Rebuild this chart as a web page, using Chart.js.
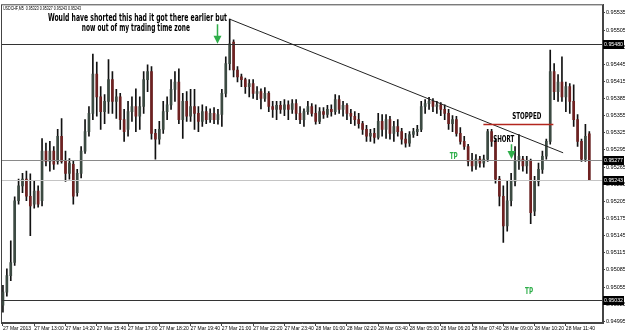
<!DOCTYPE html>
<html>
<head>
<meta charset="utf-8">
<script src="https://cdn.jsdelivr.net/npm/chart.js@4.4.0/dist/chart.umd.min.js"></script>
<style>
  html, body { margin: 0; padding: 0; background: #fff; }
  canvas { display: block; }
</style>
</head>
<body>
<canvas id="usdchfChart" width="625" height="335"></canvas>
<script>
// USDCHF M5, one candle per 10 minutes, 27 Mar 11:40 -> 28 Mar 12:20
const candleOpen = [
  0.95023,0.95046,0.95075,0.95098,0.95206,0.95232,0.95244,0.95214,0.95200,0.95223,
  0.95206,0.95293,0.95275,0.95293,0.95275,0.95319,0.95275,0.95254,0.95270,0.95220,
  0.95254,0.95293,0.95327,0.95359,0.95428,0.95388,0.95362,0.95380,0.95418,0.95380,
  0.95388,0.95348,0.95331,0.95362,0.95371,0.95354,0.95371,0.95418,0.95432,0.95324,
  0.95314,0.95331,0.95362,0.95374,0.95401,0.95414,0.95348,0.95380,0.95354,0.95371,
  0.95359,0.95345,0.95362,0.95348,0.95359,0.95348,0.95357,0.95394,0.95446,0.95484,
  0.95435,0.95423,0.95418,0.95406,0.95411,0.95394,0.95397,0.95385,0.95394,0.95371,
  0.95366,0.95373,0.95366,0.95374,0.95366,0.95376,0.95359,0.95348,0.95362,0.95371,
  0.95359,0.95345,0.95362,0.95357,0.95366,0.95362,0.95383,0.95366,0.95373,0.95359,
  0.95354,0.95348,0.95341,0.95331,0.95319,0.95324,0.95317,0.95345,0.95331,0.95348,
  0.95324,0.95336,0.95327,0.95314,0.95307,0.95322,0.95327,0.95331,0.95371,0.95376,
  0.95380,0.95371,0.95374,0.95366,0.95359,0.95341,0.95348,0.95324,0.95310,0.95301,
  0.95275,0.95267,0.95279,0.95272,0.95279,0.95327,0.95310,0.95244,0.95214,0.95162,
  0.95206,0.95240,0.95275,0.95279,0.95267,0.95275,0.95188,0.95240,0.95261,0.95284,
  0.95310,0.95432,0.95397,0.95414,0.95388,0.95406,0.95380,0.95348,0.95310,0.95279,
  0.95323
];
const candleHigh = [
  0.95058,0.95087,0.95136,0.95213,0.95244,0.95254,0.95258,0.95253,0.95240,0.95232,
  0.95315,0.95307,0.95310,0.95301,0.95331,0.95350,0.95293,0.95280,0.95275,0.95261,
  0.95301,0.95348,0.95371,0.95463,0.95449,0.95406,0.95392,0.95453,0.95432,0.95401,
  0.95394,0.95366,0.95380,0.95388,0.95402,0.95388,0.95432,0.95444,0.95441,0.95331,
  0.95345,0.95380,0.95388,0.95418,0.95432,0.95437,0.95394,0.95397,0.95401,0.95401,
  0.95371,0.95374,0.95371,0.95367,0.95369,0.95366,0.95401,0.95458,0.95524,0.95488,
  0.95441,0.95428,0.95421,0.95418,0.95418,0.95406,0.95402,0.95404,0.95397,0.95380,
  0.95380,0.95380,0.95383,0.95381,0.95383,0.95383,0.95371,0.95367,0.95380,0.95376,
  0.95374,0.95369,0.95369,0.95373,0.95374,0.95392,0.95390,0.95380,0.95376,0.95366,
  0.95362,0.95359,0.95345,0.95338,0.95331,0.95333,0.95359,0.95357,0.95357,0.95354,
  0.95345,0.95348,0.95333,0.95324,0.95327,0.95333,0.95338,0.95380,0.95383,0.95387,
  0.95385,0.95380,0.95378,0.95374,0.95366,0.95355,0.95354,0.95334,0.95319,0.95305,
  0.95289,0.95287,0.95284,0.95286,0.95331,0.95331,0.95314,0.95249,0.95232,0.95240,
  0.95254,0.95301,0.95322,0.95284,0.95284,0.95279,0.95249,0.95272,0.95293,0.95314,
  0.95470,0.95446,0.95427,0.95458,0.95414,0.95411,0.95409,0.95357,0.95314,0.95340,
  0.95327
];
const candleLow = [
  0.95011,0.95039,0.95066,0.95093,0.95200,0.95220,0.95206,0.95145,0.95193,0.95195,
  0.95197,0.95267,0.95258,0.95261,0.95270,0.95272,0.95240,0.95244,0.95200,0.95214,
  0.95246,0.95289,0.95319,0.95348,0.95354,0.95331,0.95341,0.95359,0.95359,0.95350,
  0.95331,0.95310,0.95319,0.95345,0.95327,0.95331,0.95359,0.95397,0.95314,0.95279,
  0.95305,0.95324,0.95348,0.95366,0.95380,0.95341,0.95315,0.95345,0.95345,0.95331,
  0.95327,0.95336,0.95341,0.95343,0.95341,0.95340,0.95336,0.95388,0.95435,0.95423,
  0.95414,0.95406,0.95394,0.95388,0.95385,0.95383,0.95367,0.95380,0.95362,0.95352,
  0.95348,0.95359,0.95355,0.95348,0.95359,0.95348,0.95341,0.95336,0.95357,0.95354,
  0.95340,0.95341,0.95350,0.95352,0.95354,0.95357,0.95359,0.95354,0.95348,0.95341,
  0.95338,0.95333,0.95322,0.95310,0.95310,0.95307,0.95314,0.95319,0.95315,0.95314,
  0.95310,0.95319,0.95305,0.95300,0.95301,0.95317,0.95320,0.95327,0.95359,0.95366,
  0.95362,0.95359,0.95355,0.95348,0.95331,0.95327,0.95319,0.95305,0.95296,0.95267,
  0.95258,0.95261,0.95265,0.95265,0.95275,0.95301,0.95237,0.95197,0.95133,0.95153,
  0.95197,0.95232,0.95261,0.95258,0.95254,0.95166,0.95180,0.95232,0.95254,0.95279,
  0.95305,0.95383,0.95380,0.95380,0.95362,0.95359,0.95336,0.95301,0.95275,0.95275,
  0.95243
];
const candleClose = [
  0.95046,0.95075,0.95098,0.95206,0.95232,0.95244,0.95214,0.95197,0.95223,0.95200,
  0.95293,0.95275,0.95293,0.95270,0.95319,0.95275,0.95254,0.95272,0.95214,0.95254,
  0.95293,0.95327,0.95359,0.95428,0.95388,0.95362,0.95380,0.95418,0.95380,0.95388,
  0.95348,0.95327,0.95362,0.95371,0.95354,0.95371,0.95418,0.95432,0.95324,0.95314,
  0.95331,0.95362,0.95374,0.95401,0.95414,0.95348,0.95380,0.95354,0.95371,0.95359,
  0.95345,0.95362,0.95348,0.95359,0.95348,0.95357,0.95394,0.95446,0.95481,0.95435,
  0.95423,0.95418,0.95406,0.95411,0.95394,0.95397,0.95385,0.95394,0.95371,0.95366,
  0.95373,0.95366,0.95374,0.95366,0.95376,0.95359,0.95348,0.95362,0.95371,0.95359,
  0.95345,0.95362,0.95357,0.95366,0.95362,0.95383,0.95366,0.95373,0.95359,0.95354,
  0.95348,0.95341,0.95331,0.95319,0.95324,0.95317,0.95345,0.95331,0.95348,0.95324,
  0.95336,0.95327,0.95314,0.95307,0.95322,0.95327,0.95331,0.95371,0.95376,0.95380,
  0.95371,0.95374,0.95366,0.95359,0.95341,0.95348,0.95324,0.95310,0.95301,0.95275,
  0.95267,0.95279,0.95272,0.95279,0.95327,0.95310,0.95244,0.95214,0.95162,0.95206,
  0.95240,0.95275,0.95284,0.95267,0.95275,0.95185,0.95240,0.95261,0.95284,0.95310,
  0.95432,0.95397,0.95414,0.95388,0.95406,0.95380,0.95348,0.95310,0.95279,0.95319,
  0.95243
];

const xTickLabels = [
  "27 Mar 2013", "27 Mar 13:00", "27 Mar 14:20", "27 Mar 15:40", "27 Mar 17:00",
  "27 Mar 18:20", "27 Mar 19:40", "27 Mar 21:00", "27 Mar 22:20", "27 Mar 23:40",
  "28 Mar 01:00", "28 Mar 02:20", "28 Mar 03:40", "28 Mar 05:00", "28 Mar 06:20",
  "28 Mar 07:40", "28 Mar 09:00", "28 Mar 10:20", "28 Mar 11:40"
];
const candlesPerLabel = 8;
const slotCount = 154; // chart shift: a few empty slots after the last candle

const yTickValues = [
  0.95535, 0.95505, 0.95475, 0.95445, 0.95415, 0.95385, 0.95355, 0.95325, 0.95295, 0.95265,
  0.95235, 0.95205, 0.95175, 0.95145, 0.95115, 0.95085, 0.95055, 0.95025, 0.94995
];

// horizontal price levels drawn on the chart
const levelValues = [0.95480, 0.95277, 0.95243, 0.95032];
const levelColors = ["#333", "#8a8a8a", "#c4c4c4", "#333"];

const headerText = "USDCHF,M5  0.95323 0.95327 0.95243 0.95243";

// trend line and stop line, in candle index / price
const trendFrom = [58, 0.95524];
const trendTo = [143.3, 0.95290];
const stopLine = { from: 122.9, to: 140.8, price: 0.95340 };

const notes = [
  { text: "Would have shorted this had it got there earlier but", idx: 34.4, price: 0.95526, w: 179, size: 10, color: "#000" },
  { text: "now out of my trading time zone", idx: 34.0, price: 0.95508, w: 108, size: 10, color: "#000" },
  { text: "STOPPED", idx: 134.0, price: 0.95354, w: 29, size: 9, color: "#000" },
  { text: "SHORT", idx: 128.1, price: 0.95313, w: 21, size: 9, color: "#000" },
  { text: "TP", idx: 115.3, price: 0.95284, w: 8, size: 9, color: "#2fae4a" },
  { text: "TP", idx: 134.6, price: 0.95047, w: 8, size: 9, color: "#2fae4a" }
];
const arrows = [
  { idx: 54.8, from: 0.95515, to: 0.95481 },
  { idx: 130.0, from: 0.95305, to: 0.95279 }
];

const labels = Array.from({ length: slotCount }, (_, i) => i);
const wicks = candleLow.map((lo, i) => [lo, candleHigh[i]]);
const bodies = candleOpen.map((o, i) => [o, candleClose[i]]);
const bodyColors = candleOpen.map((o, i) => candleClose[i] < o ? "#6e2121" : "#3c4a42");

const smallFont = "'Liberation Sans', Arial, sans-serif";

const overlay = {
  id: "overlay",
  afterDatasetsDraw(chart) {
    const { ctx, chartArea: a, scales: { x, y } } = chart;
    ctx.save();
    ctx.beginPath();
    ctx.rect(a.left, a.top, a.width, a.height);
    ctx.clip();

    ctx.lineWidth = 1;
    levelValues.forEach((v, k) => {
      const py = Math.round(y.getPixelForValue(v)) + 0.5;
      ctx.strokeStyle = levelColors[k];
      ctx.beginPath();
      ctx.moveTo(a.left, py);
      ctx.lineTo(a.right, py);
      ctx.stroke();
    });

    // trend line
    ctx.strokeStyle = "#222";
    ctx.beginPath();
    ctx.moveTo(x.getPixelForValue(trendFrom[0]), y.getPixelForValue(trendFrom[1]));
    ctx.lineTo(x.getPixelForValue(trendTo[0]), y.getPixelForValue(trendTo[1]));
    ctx.stroke();

    // stop line
    ctx.strokeStyle = "#b3261e";
    ctx.lineWidth = 1.5;
    const sy = Math.round(y.getPixelForValue(stopLine.price)) + 0.5;
    ctx.beginPath();
    ctx.moveTo(x.getPixelForValue(stopLine.from), sy);
    ctx.lineTo(x.getPixelForValue(stopLine.to), sy);
    ctx.stroke();

    // arrows
    arrows.forEach(ar => {
      const px = Math.round(x.getPixelForValue(ar.idx)) + 0.5;
      const y1 = y.getPixelForValue(ar.from);
      const y2 = y.getPixelForValue(ar.to);
      ctx.strokeStyle = "#2fae4a";
      ctx.fillStyle = "#2fae4a";
      ctx.lineWidth = 1.5;
      ctx.beginPath();
      ctx.moveTo(px, y1);
      ctx.lineTo(px, y2 - 7);
      ctx.stroke();
      ctx.beginPath();
      ctx.moveTo(px - 4, y2 - 8);
      ctx.lineTo(px + 4, y2 - 8);
      ctx.lineTo(px, y2);
      ctx.closePath();
      ctx.fill();
    });

    // notes
    ctx.textAlign = "center";
    ctx.textBaseline = "middle";
    notes.forEach(n => {
      ctx.font = "bold " + n.size + "px 'DejaVu Sans Condensed', 'Liberation Sans', sans-serif";
      ctx.fillStyle = n.color;
      ctx.fillText(n.text, x.getPixelForValue(n.idx), y.getPixelForValue(n.price), n.w);
    });
    ctx.restore();
  },
  afterDraw(chart) {
    const { ctx, chartArea: a, scales: { y } } = chart;
    ctx.save();
    ctx.strokeStyle = "#444";
    ctx.lineWidth = 1;
    ctx.strokeRect(a.left + 0.5, a.top + 0.5, a.width - 1, a.height - 1);

    ctx.font = "6px " + smallFont;
    ctx.fillStyle = "#000";
    ctx.textAlign = "left";
    ctx.textBaseline = "middle";
    ctx.fillText(headerText, a.left + 2, a.top + 4, 78);

    // highlighted price boxes on the right axis
    ctx.font = "5.5px " + smallFont;
    levelValues.forEach(v => {
      const py = Math.round(y.getPixelForValue(v));
      ctx.fillStyle = "#000";
      ctx.fillRect(a.right, py - 4, 21, 9);
      ctx.fillStyle = "#fff";
      ctx.fillText(v.toFixed(5), a.right + 1, py + 0.5, 19);
    });
    ctx.restore();
  }
};

new Chart(document.getElementById("usdchfChart"), {
  type: "bar",
  data: {
    labels: labels,
    datasets: [
      {
        data: bodies,
        backgroundColor: bodyColors,
        barThickness: 2,
        minBarLength: 1,
        grouped: false,
        order: 1
      },
      {
        data: wicks,
        backgroundColor: "#111",
        barThickness: 1,
        grouped: false,
        order: 2
      }
    ]
  },
  options: {
    responsive: false,
    animation: false,
    devicePixelRatio: 1,
    layout: { padding: { left: 1, top: 2, right: 0, bottom: 0 } },
    plugins: { legend: { display: false }, tooltip: { enabled: false } },
    scales: {
      x: {
        grid: { drawOnChartArea: false, offset: false, tickLength: 3, color: "#444" },
        border: { color: "#444" },
        afterBuildTicks: (scale) => {
          scale.ticks = scale.ticks.filter(t => t.value % candlesPerLabel === 0 && t.value / candlesPerLabel < xTickLabels.length);
        },
        afterFit: (scale) => { scale.height = 12; },
        ticks: {
          autoSkip: false,
          maxRotation: 0,
          align: "start",
          padding: 0,
          color: "#000",
          font: { family: smallFont, size: 5 },
          callback: (v) => xTickLabels[v / candlesPerLabel]
        }
      },
      y: {
        position: "right",
        min: 0.94992,
        max: 0.95550,
        grid: { drawOnChartArea: false, tickLength: 2, color: "#444" },
        border: { color: "#444" },
        afterBuildTicks: (scale) => {
          scale.ticks = yTickValues.map(v => ({ value: v }));
        },
        afterFit: (scale) => { scale.width = 22; },
        ticks: {
          padding: 1,
          color: "#000",
          font: { family: smallFont, size: 5.5 },
          callback: (v) => v.toFixed(5)
        }
      }
    }
  },
  plugins: [overlay]
});
</script>
</body>
</html>
